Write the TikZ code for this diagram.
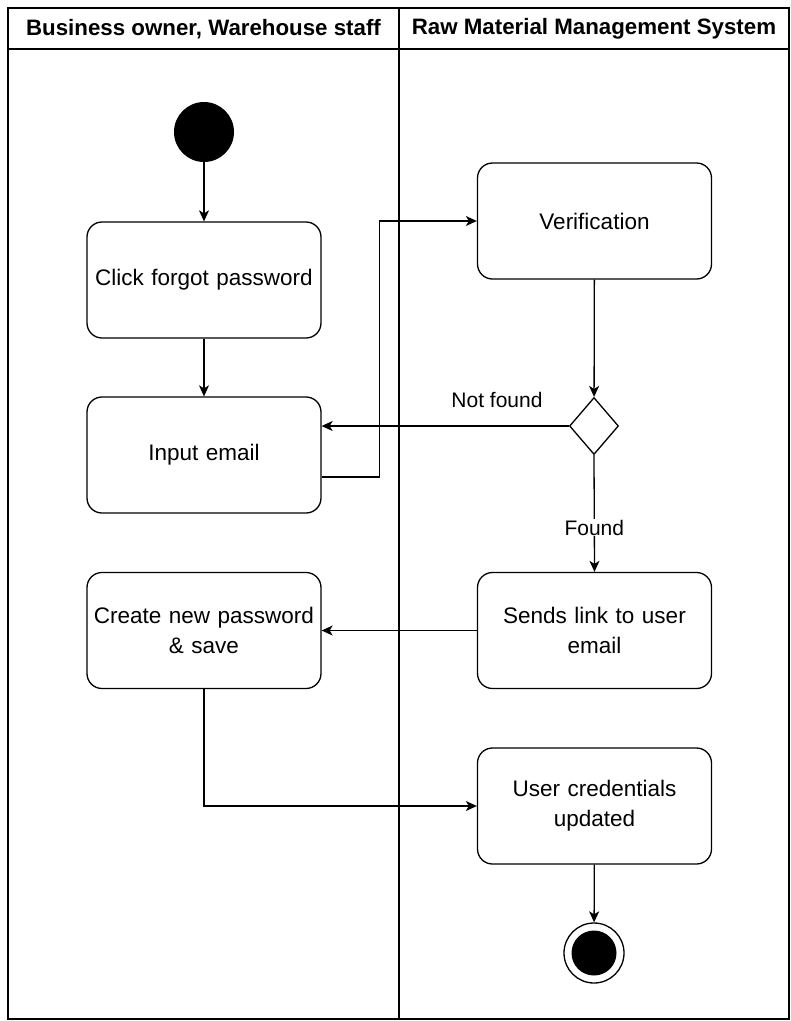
\documentclass[tikz,border=0pt]{standalone}
\usepackage{fontspec}
\setmainfont{Liberation Sans}
\usetikzlibrary{shapes.geometric,arrows.meta}
\begin{document}
\begin{tikzpicture}[x=1pt,y=-1pt,
  every node/.style={font=\fontsize{22.5}{30}\selectfont},
  actbox/.style={draw,line width=1.3pt,rounded corners=15pt,minimum width=234pt,minimum height=116pt,align=center,inner sep=2pt,text width=228pt},
  decis/.style={draw,line width=1.3pt,diamond,minimum width=49pt,minimum height=57pt,inner sep=0pt,aspect=0.86},
  arr/.style={line width=1.3pt,-{Stealth[length=11pt,width=10pt,inset=3pt]}},
  lane/.style={line width=1.3pt},
  hdr/.style={font=\fontsize{22.3}{26}\selectfont\bfseries},
  lbl/.style={font=\fontsize{21}{26}\selectfont,inner sep=1pt}]
\useasboundingbox (0,0) rectangle (791,1021);
\fill[white] (0,0) rectangle (791,1021);
% swimlanes
\draw[lane] (8,8) rectangle (789,1019);
\draw[lane] (8,49) -- (789,49);
\draw[lane] (399,8) -- (399,1019);
\node[hdr] (h1) at (203.5,29) {Business owner, Warehouse staff};
\node[hdr] (h2) at (594,29) {Raw Material Management System};
% nodes
\node[circle,fill=black,minimum size=60pt,inner sep=0pt] (start) at (204,132) {};
\node[actbox] (b1) at (204,280) {Click forgot password};
\node[actbox] (b2) at (204,455) {Input email};
\node[actbox] (v) at (594.5,221) {Verification};
\node[decis] (d) at (594,426) {};
\node[actbox] (b3) at (594.5,630.5) {Sends link to user\\email};
\node[actbox] (b4) at (204,630.5) {Create new password\\\& save};
\node[actbox] (b5) at (594.5,806) {User credentials\\updated};
\node[circle,draw,line width=1.3pt,minimum size=60pt,inner sep=0pt] (end) at (594,953) {};
\node[circle,fill=black,minimum size=45pt,inner sep=0pt] (endin) at (594,953) {};
% connectors
\draw[arr] (start) -- (b1);
\draw[arr] (b1) -- (b2);
\draw[arr] ([yshift=-22pt]b2.east) -- ++(58,0) |- (v.west);
\draw[arr] (v) -- (d);
\draw[arr] (d.west) -- (b2.east |- d.west);
\node[lbl] (nf) at (497,400) {Not found};
\draw[arr] (d.south) -- node[lbl,fill=white,pos=0.62] (fd) {Found} (b3.north);
\draw[arr] (b3) -- (b4);
\draw[arr] (b4.south) |- (b5.west);
\draw[arr] (b5) -- (end);
\end{tikzpicture}
\end{document}
